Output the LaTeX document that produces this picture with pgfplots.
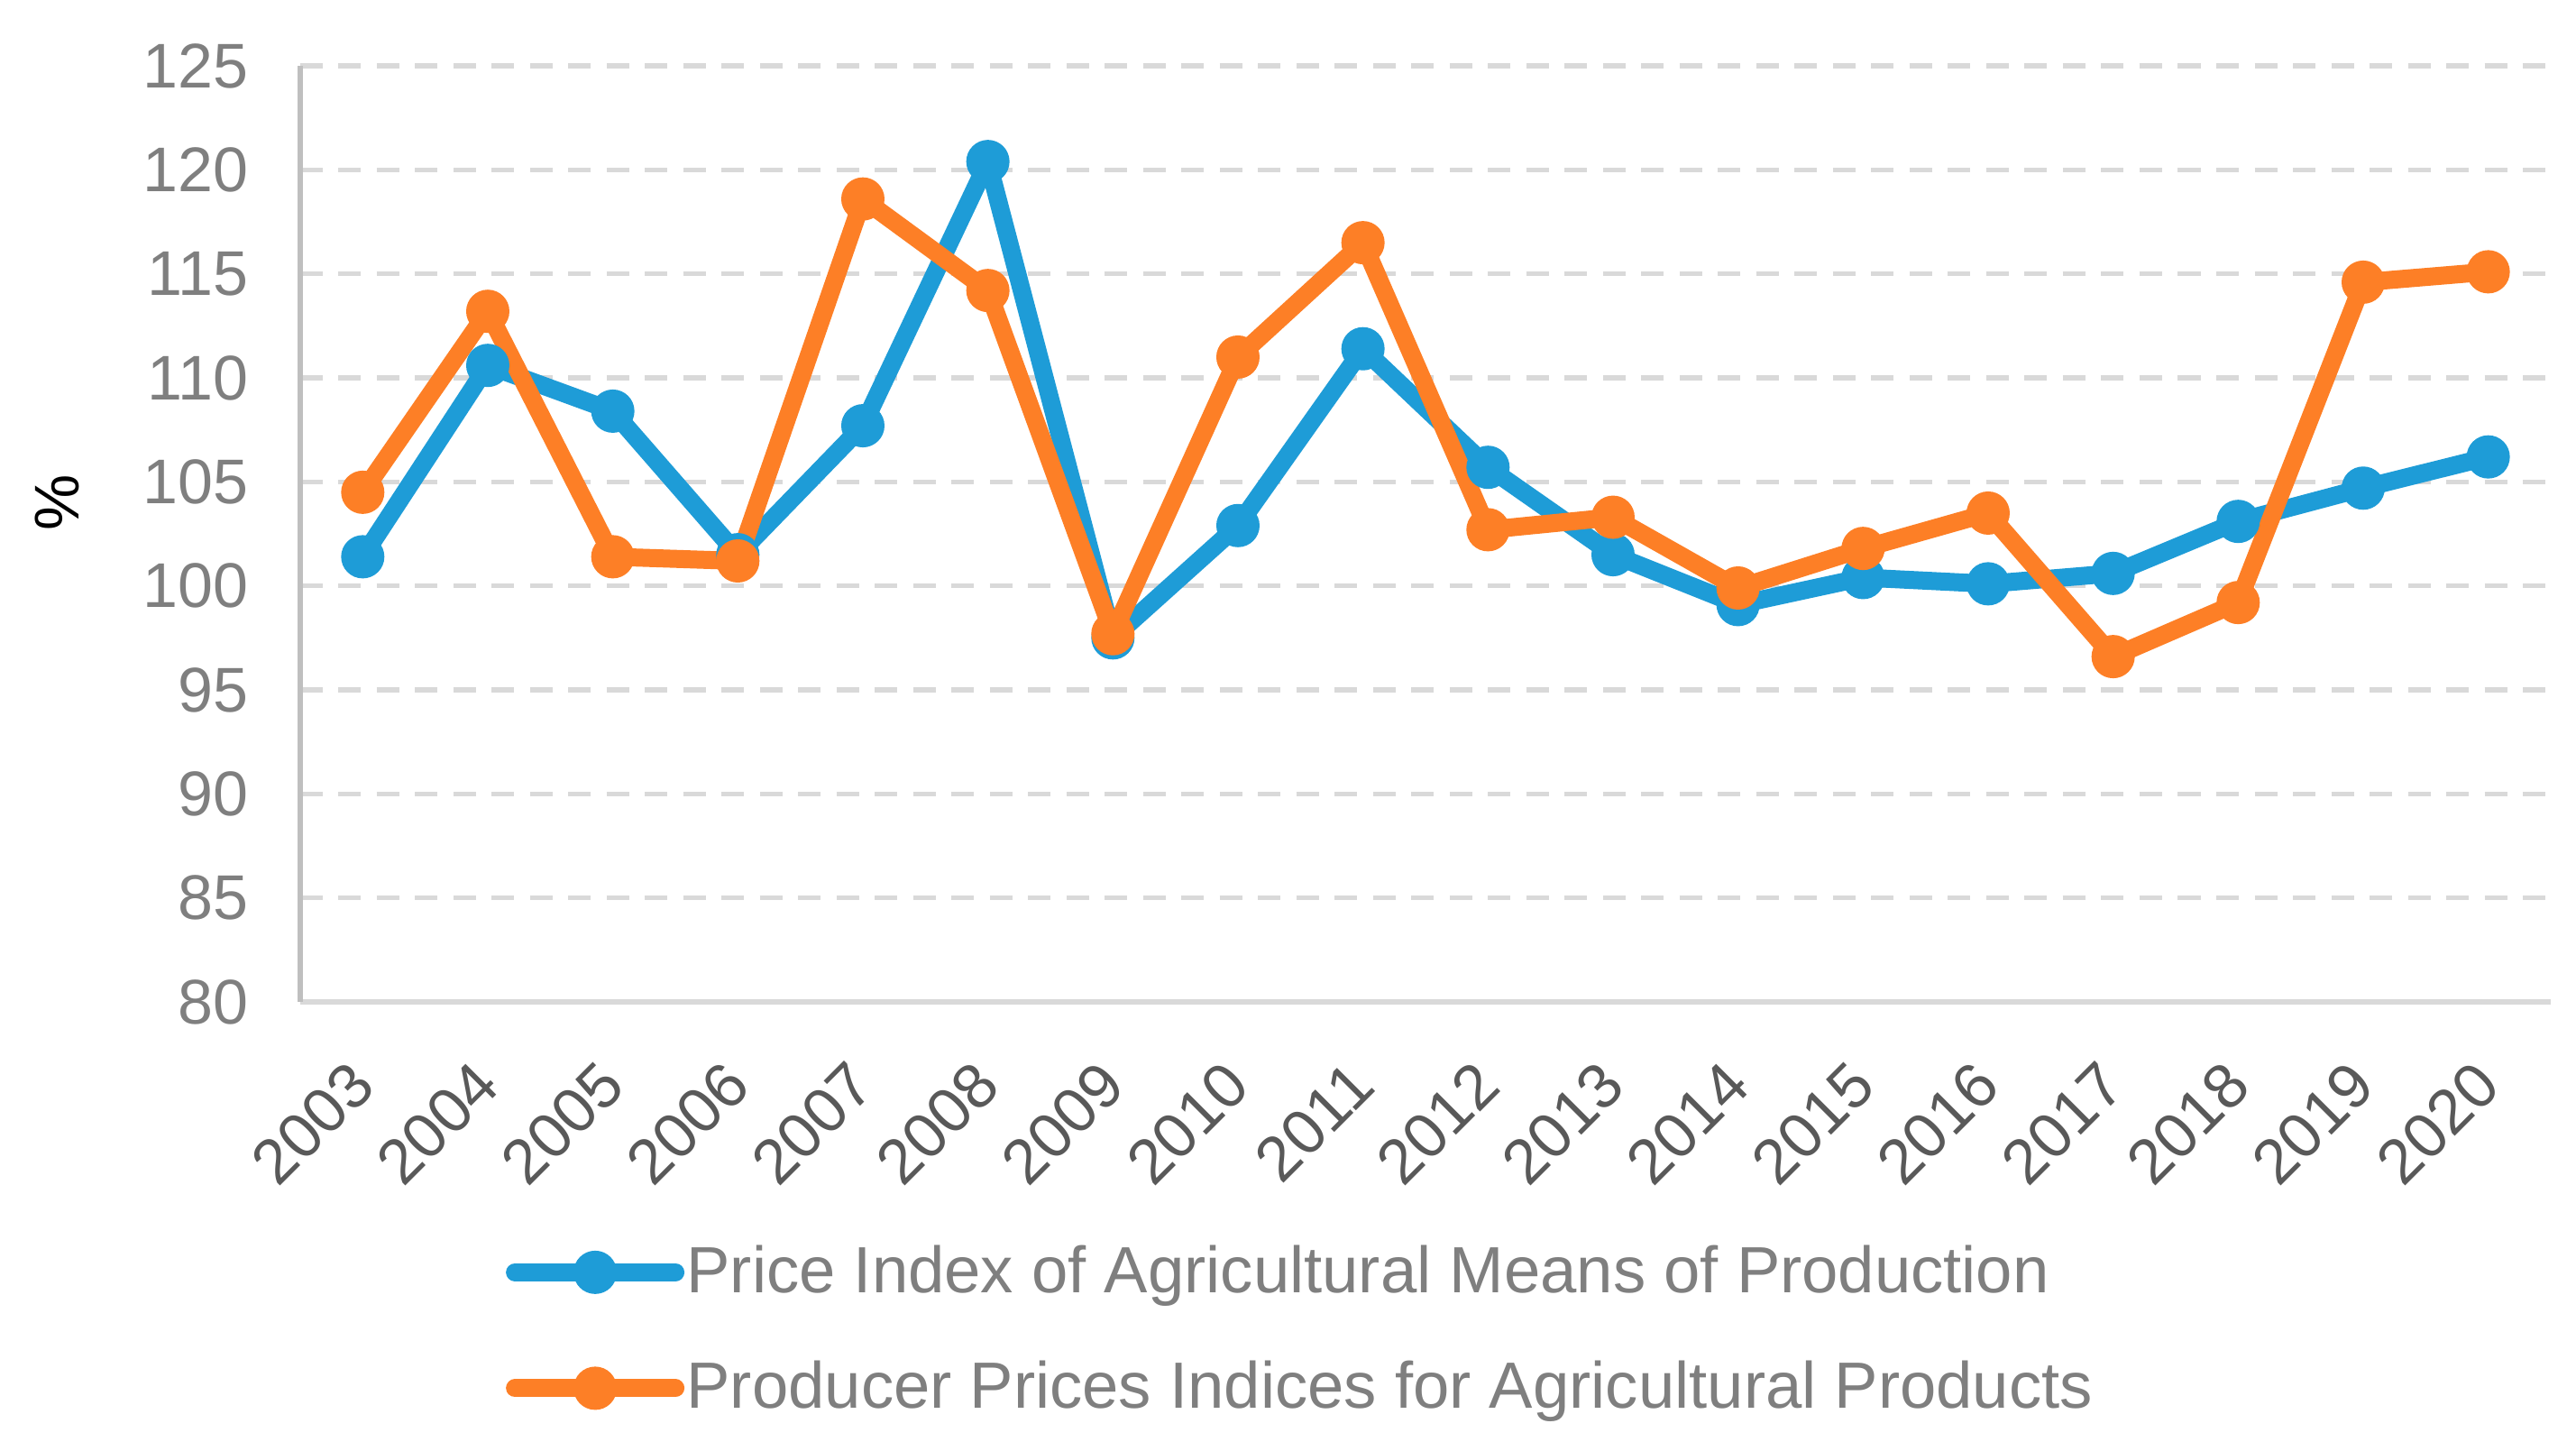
\documentclass[border=0pt]{standalone}
\usepackage{fontspec}
\setmainfont{Liberation Sans}
\usepackage{pgfplots}
\usepackage{pgfplotstable}
\pgfplotsset{compat=1.18}

\definecolor{cBlue}{HTML}{1E9CD7}
\definecolor{cOrange}{HTML}{FD7F26}
\definecolor{cGrid}{HTML}{D9D9D9}
\definecolor{cYaxis}{HTML}{BFBFBF}
\definecolor{cYtick}{HTML}{7F7F7F}
\definecolor{cXtick}{HTML}{595959}

% year, means-of-production index, producer price index
\pgfplotstableread{
year  means   producer
2003  101.4   104.5
2004  110.6   113.2
2005  108.4   101.4
2006  101.5   101.2
2007  107.7   118.6
2008  120.4   114.2
2009  97.5    97.7
2010  102.9   111.0
2011  111.4   116.5
2012  105.7   102.7
2013  101.5   103.3
2014  99.1    99.9
2015  100.4   101.8
2016  100.1   103.5
2017  100.6   96.6
2018  103.1   99.2
2019  104.7   114.6
2020  106.2   115.1
}\data

\begin{document}
\begin{tikzpicture}
\useasboundingbox (-66.6pt,-99.6pt) rectangle (504.8pt,222.2pt);
\begin{axis}[
    scale only axis,
    width=499.2pt, height=207.6pt,
    xmin=2002.5, xmax=2020.5,
    ymin=80, ymax=125,
    xtick=data,
    ytick={80,85,...,125},
    /pgf/number format/assume math mode=true,
    xticklabel={\pgfmathprintnumber[1000 sep={},fixed]{\tick}},
    axis x line*=bottom, axis y line*=left,
    x axis line style={-, draw=cGrid, line width=1.1pt},
    y axis line style={-, draw=cYaxis, line width=1.1pt},
    tick style={draw=none},
    ymajorgrids,
    grid style={draw=cGrid, line width=1.1pt, dash pattern=on 5pt off 3.5pt},
    yticklabel style={font=\fontsize{14}{16}\selectfont, text=cYtick, xshift=-8pt},
    xticklabel style={font=\fontsize{14}{16}\selectfont, text=cXtick,
        inner sep=0pt, yshift=-15.8pt, rotate=45, anchor=east},
    ylabel={\%},
    ylabel style={at={(axis description cs:-0.108,0.533)}, anchor=center,
        font=\fontsize{14}{16}\selectfont, text=black},
    clip=false,
    legend style={draw=none, fill=none, inner sep=0pt,
        at={(axis description cs:0.091,-0.2566)}, anchor=north west,
        font=\fontsize{14.5}{17}\selectfont, text=cYtick,
        nodes={inner sep=0.5pt}, row sep=12.7pt},
    legend cell align=left,
    legend image code/.code={
        \draw[mark repeat=2, mark phase=2, #1]
            plot coordinates {(0pt,0pt) (17.8pt,0pt) (35.6pt,0pt)};},
    every axis plot/.append style={line width=4pt, line cap=round, line join=round,
        mark=*, mark size=4.6pt, mark options={line width=0.4pt}},
]
\addplot[color=cBlue] table[x=year, y=means] {\data};
\addlegendentry{Price Index of Agricultural Means of Production}
\addplot[color=cOrange] table[x=year, y=producer] {\data};
\addlegendentry{Producer Prices Indices for Agricultural Products}
\end{axis}
\end{tikzpicture}
\end{document}
